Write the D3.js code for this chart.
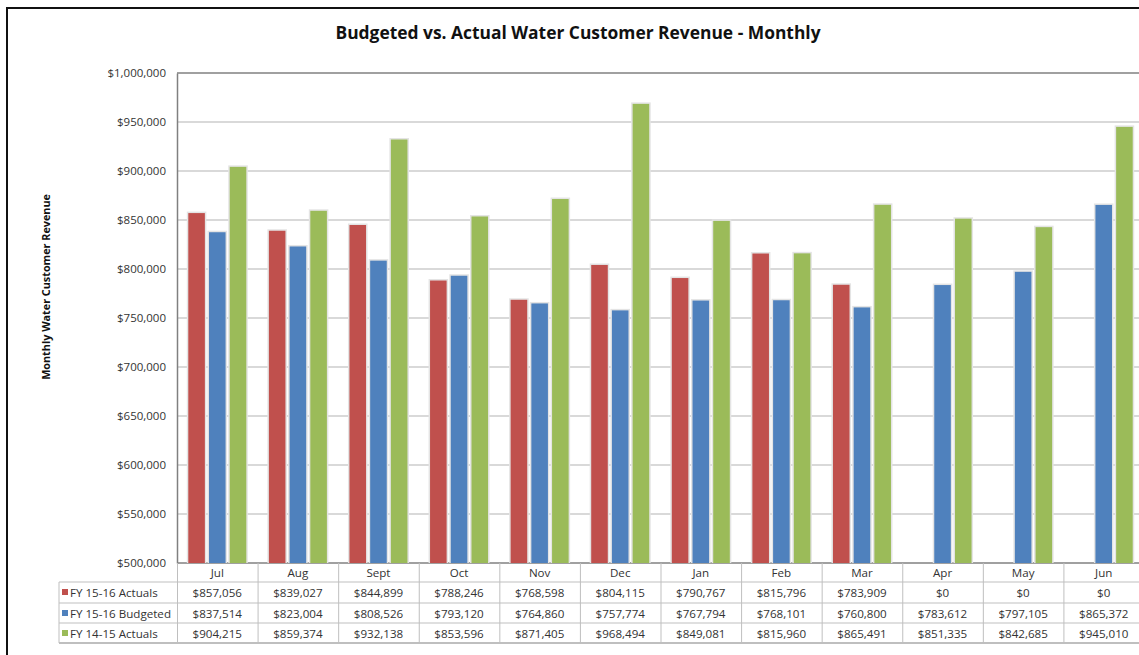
<!DOCTYPE html>
<html>
<head>
<meta charset="utf-8">
<script src="https://cdn.jsdelivr.net/npm/d3@7"></script>
<style>
  body { margin: 0; background: #fff; }
  text { font-family: "Open Sans", "Noto Sans", sans-serif; }
</style>
</head>
<body>
<div id="chart"></div>
<script>
// chart data
var months = ['Jul','Aug','Sept','Oct','Nov','Dec','Jan','Feb','Mar','Apr','May','Jun'];
var seriesNames = ['FY 15-16 Actuals','FY 15-16 Budgeted','FY 14-15 Actuals'];
var seriesColors = ['#c0504d','#4f81bd','#9bbb59'];
var actuals1516  = [857056, 839027, 844899, 788246, 768598, 804115, 790767, 815796, 783909, 0, 0, 0];
var budgeted1516 = [837514, 823004, 808526, 793120, 764860, 757774, 767794, 768101, 760800, 783612, 797105, 865372];
var actuals1415  = [904215, 859374, 932138, 853596, 871405, 968494, 849081, 815960, 865491, 851335, 842685, 945010];
var yTicks = [500000, 550000, 600000, 650000, 700000, 750000, 800000, 850000, 900000, 950000, 1000000];

var allSeries = [actuals1516, budgeted1516, actuals1415];

var chart_width  = 1139;
var chart_height = 655;

var plot = {left: 177, right: 1144, top: 73, bottom: 563};

var svg = d3.select('#chart')
    .append('svg')
    .attr('width', chart_width)
    .attr('height', chart_height);

// outer frame
svg.append('rect')
    .attr('x', 7).attr('y', 8)
    .attr('width', chart_width + 20).attr('height', chart_height + 20)
    .attr('fill', 'none')
    .attr('stroke', '#111')
    .attr('stroke-width', 2);

// title
svg.append('text')
    .attr('x', 578).attr('y', 39)
    .attr('text-anchor', 'middle')
    .attr('font-size', 17.4)
    .attr('font-weight', 'bold')
    .attr('fill', '#111')
    .text('Budgeted vs. Actual Water Customer Revenue - Monthly');

// scales
var y = d3.scaleLinear()
    .domain([500000, 1000000])
    .range([plot.bottom, plot.top]);

var x0 = d3.scaleBand()
    .domain(months)
    .range([plot.left, plot.right])
    .padding(0);

var x1 = d3.scaleBand()
    .domain(d3.range(3))
    .range([11.3, 69.3])
    .paddingInner(0.2);

// gridlines
svg.append('g')
    .selectAll('line')
    .data(yTicks.slice(1, -1))
    .enter()
    .append('line')
    .attr('x1', plot.left).attr('x2', plot.right)
    .attr('y1', function(d){ return y(d); })
    .attr('y2', function(d){ return y(d); })
    .attr('stroke', '#d9d9d9')
    .attr('stroke-width', 2);

// top border of the plot
svg.append('line')
    .attr('x1', plot.left).attr('x2', plot.right)
    .attr('y1', plot.top).attr('y2', plot.top)
    .attr('stroke', '#808080').attr('stroke-width', 1.5);

// y axis
var yAxis = d3.axisLeft(y)
    .tickValues(yTicks)
    .tickSize(0)
    .tickPadding(11)
    .tickFormat(function(d){ return '$' + d3.format(',')(d); });

var gy = svg.append('g')
    .attr('transform', 'translate(' + plot.left + ',0)')
    .call(yAxis);
gy.select('.domain').attr('stroke', '#808080').attr('stroke-width', 1.5);
gy.selectAll('text')
    .attr('font-size', 11.5)
    .attr('fill', '#333')
    .style('font-family', '"Open Sans", sans-serif');

// x axis line
svg.append('line')
    .attr('x1', plot.left).attr('x2', plot.right)
    .attr('y1', plot.bottom).attr('y2', plot.bottom)
    .attr('stroke', '#808080').attr('stroke-width', 1.5);

// y axis title
svg.append('text')
    .attr('transform', 'translate(50,287) rotate(-90)')
    .attr('text-anchor', 'middle')
    .attr('font-size', 10.8)
    .attr('font-weight', 'bold')
    .attr('fill', '#111')
    .text('Monthly Water Customer Revenue');

// bars
var barData = [];
months.forEach(function(m, i){
    allSeries.forEach(function(s, j){
        if (s[i] > y.domain()[0]) {
            barData.push({month: m, series: j, value: s[i]});
        }
    });
});

var bars = svg.append('g');

// soft shadow behind the bars
bars.selectAll('rect.shadow')
    .data(barData)
    .enter()
    .append('rect')
    .attr('class', 'shadow')
    .attr('x', function(d){ return x0(d.month) + x1(d.series) - 1.5; })
    .attr('y', function(d){ return y(d.value) - 1.5; })
    .attr('width', x1.bandwidth() + 3)
    .attr('height', function(d){ return plot.bottom - y(d.value) + 1.5; })
    .attr('fill', '#e4e4e4');

bars.selectAll('rect.bar')
    .data(barData)
    .enter()
    .append('rect')
    .attr('class', 'bar')
    .attr('x', function(d){ return x0(d.month) + x1(d.series); })
    .attr('y', function(d){ return y(d.value); })
    .attr('width', x1.bandwidth())
    .attr('height', function(d){ return plot.bottom - y(d.value); })
    .attr('fill', function(d){ return seriesColors[d.series]; });

// data table
var rowTop = [563, 582, 603, 623, 643];
var tableLeft = 59;
var lineColor = '#bfbfbf';
var table = svg.append('g');

// horizontal lines
rowTop.slice(1).forEach(function(ry, k){
    table.append('line')
        .attr('x1', tableLeft).attr('x2', plot.right)
        .attr('y1', ry).attr('y2', ry)
        .attr('stroke', lineColor)
        .attr('stroke-width', k === 3 ? 2 : 1);
});

// vertical lines
months.forEach(function(m){
    table.append('line')
        .attr('x1', x0(m) + 0.5).attr('x2', x0(m) + 0.5)
        .attr('y1', rowTop[0]).attr('y2', rowTop[4])
        .attr('stroke', lineColor);
});
table.append('line')
    .attr('x1', tableLeft).attr('x2', tableLeft)
    .attr('y1', rowTop[1]).attr('y2', rowTop[4])
    .attr('stroke', lineColor);

var tableFont = 11.6;

// month labels
table.selectAll('text.month')
    .data(months)
    .enter()
    .append('text')
    .attr('class', 'month')
    .attr('x', function(d){ return x0(d) + x0.bandwidth() / 2; })
    .attr('y', rowTop[0] + 14)
    .attr('text-anchor', 'middle')
    .attr('font-size', tableFont)
    .attr('fill', '#333')
    .text(function(d){ return d; });

// value rows
allSeries.forEach(function(s, j){
    var ry = rowTop[j + 1];
    table.append('rect')
        .attr('x', 62).attr('y', ry + 7)
        .attr('width', 6).attr('height', 6)
        .attr('fill', seriesColors[j]);
    table.append('text')
        .attr('x', 70).attr('y', ry + 14.5)
        .attr('font-size', tableFont)
        .attr('fill', '#333')
        .text(seriesNames[j]);
    table.selectAll('text.v' + j)
        .data(s)
        .enter()
        .append('text')
        .attr('class', 'v' + j)
        .attr('x', function(d, i){ return x0(months[i]) + x0.bandwidth() / 2; })
        .attr('y', ry + 14.5)
        .attr('text-anchor', 'middle')
        .attr('font-size', tableFont)
        .attr('fill', '#333')
        .text(function(d){ return '$' + d3.format(',')(d); });
});
</script>
</body>
</html>
